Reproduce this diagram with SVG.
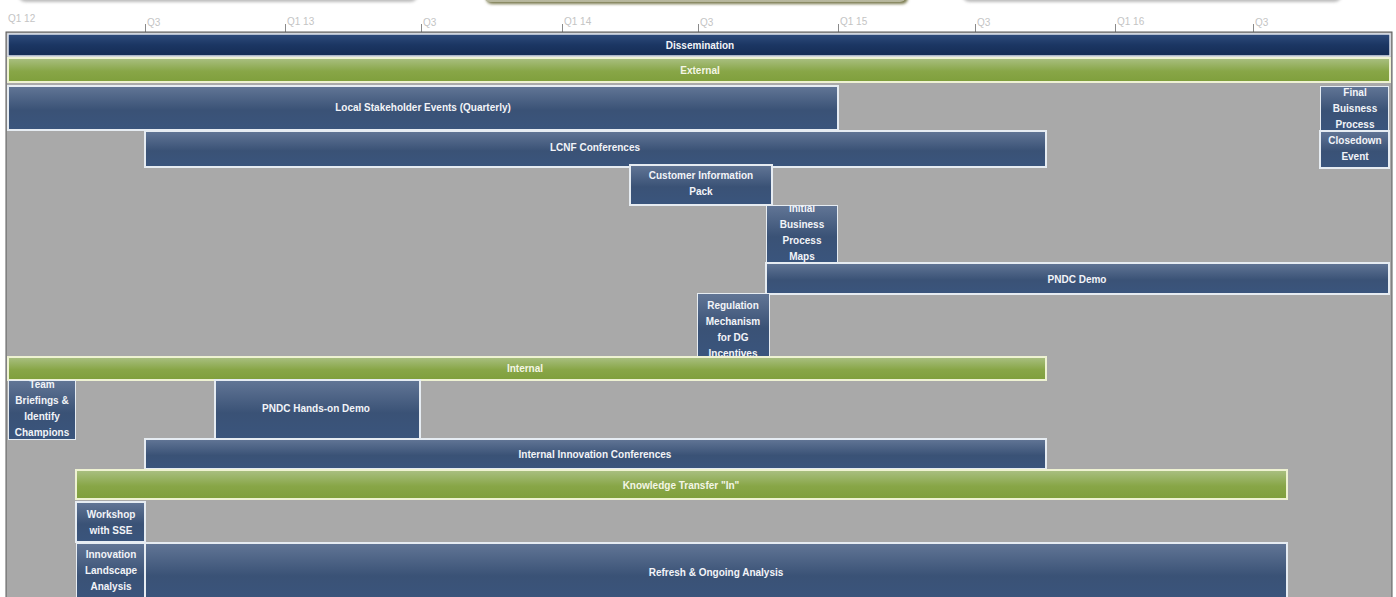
<svg xmlns="http://www.w3.org/2000/svg" width="1396" height="597" viewBox="0 0 1396 597">
<defs>
<linearGradient id="gNavy" x1="0" y1="0" x2="0" y2="1">
<stop offset="0" stop-color="#627696"/>
<stop offset="0.55" stop-color="#3a5276"/>
<stop offset="1" stop-color="#3a557d"/>
</linearGradient>
<linearGradient id="gDark" x1="0" y1="0" x2="0" y2="1">
<stop offset="0" stop-color="#2f4c7c"/>
<stop offset="0.5" stop-color="#1b3663"/>
<stop offset="1" stop-color="#152c54"/>
</linearGradient>
<linearGradient id="gGreen" x1="0" y1="0" x2="0" y2="1">
<stop offset="0" stop-color="#aac083"/>
<stop offset="0.55" stop-color="#88a647"/>
<stop offset="1" stop-color="#7f9f3c"/>
</linearGradient>
<linearGradient id="gCall" x1="0" y1="0" x2="0" y2="1">
<stop offset="0" stop-color="#e4e4dc"/>
<stop offset="1" stop-color="#b5b59a"/>
</linearGradient>
<filter id="sh" x="-5%" y="-50%" width="110%" height="200%">
<feGaussianBlur stdDeviation="1.5"/>
</filter>
<clipPath id="cInit"><rect x="766" y="205" width="72" height="58"/></clipPath>
<clipPath id="cReg"><rect x="697" y="293" width="73" height="64"/></clipPath>
<clipPath id="cTeam"><rect x="8" y="380" width="68" height="60"/></clipPath>
<clipPath id="cFinal"><rect x="1320" y="86" width="69" height="45"/></clipPath>
<clipPath id="cInno"><rect x="76" y="543" width="69" height="54"/></clipPath>
</defs>
<style>
.nv{fill:url(#gNavy);stroke:#e6ecf2;stroke-width:2}
.dk{fill:url(#gDark);stroke:#dfe5ee;stroke-width:1.5}
.gr{fill:url(#gGreen);stroke:#eef2d2;stroke-width:2}
.t{font-family:"Liberation Sans",Arial,sans-serif;font-size:10px;font-weight:bold;fill:#f2f4f8;text-anchor:middle;dominant-baseline:central}
.tg{fill:#f4f6e6}
.ax{font-family:"Liberation Sans",Arial,sans-serif;font-size:10px;fill:#c4c4c4}
.tk{stroke:#8a8a8a;stroke-width:1}
</style>
<rect width="1396" height="597" fill="#ffffff"/>
<g id="callouts">
<rect x="18" y="-24" width="400" height="26" rx="8" fill="#bbbbbb" filter="url(#sh)"/>
<rect x="16" y="-26" width="400" height="26" rx="8" fill="#ffffff"/>
<rect x="486" y="-22" width="422" height="26" rx="6" fill="#77774a" filter="url(#sh)"/>
<rect x="484" y="-24" width="422" height="26" rx="6" fill="url(#gCall)"/>
<rect x="962" y="-24" width="380" height="26" rx="8" fill="#bbbbbb" filter="url(#sh)"/>
<rect x="960" y="-26" width="380" height="26" rx="8" fill="#ffffff"/>
</g>
<g id="axis">
<text class="ax" x="8" y="22">Q1 12</text>
<text class="ax" x="147" y="26">Q3</text>
<text class="ax" x="287" y="25">Q1 13</text>
<text class="ax" x="423" y="26">Q3</text>
<text class="ax" x="564" y="25">Q1 14</text>
<text class="ax" x="700" y="26">Q3</text>
<text class="ax" x="840" y="25">Q1 15</text>
<text class="ax" x="977" y="26">Q3</text>
<text class="ax" x="1117" y="25">Q1 16</text>
<text class="ax" x="1255" y="26">Q3</text>
<path class="tk" d="M145.5 24V32M285.5 24V32M421.5 24V32M562.5 24V32M698.5 24V32M838.5 24V32M975.5 24V32M1115.5 24V32M1253.5 24V32"/>
</g>
<rect id="chart-bg" x="6" y="32" width="1386" height="570" fill="#a9a9a9" stroke="#5a5a5a" stroke-width="1"/>
<g id="n-dissemination"><rect class="dk" x="8" y="34" width="1382" height="22"/><text class="t" x="700" y="45">Dissemination</text></g>
<g id="n-external"><rect class="gr" x="8" y="58" width="1382" height="24"/><text class="t tg" x="700" y="70">External</text></g>
<g id="n-local"><rect class="nv" x="8" y="86" width="830" height="44"/><text class="t" x="423" y="107">Local Stakeholder Events (Quarterly)</text></g>
<g id="n-final" clip-path="url(#cFinal)"><rect class="nv" x="1320" y="86" width="69" height="45"/><text class="t" x="1355" y="92">Final</text><text class="t" x="1355" y="108">Buisness</text><text class="t" x="1355" y="124">Process</text></g>
<g id="n-closedown"><rect class="nv" x="1320" y="131" width="69" height="37"/><text class="t" x="1355" y="140">Closedown</text><text class="t" x="1355" y="156">Event</text></g>
<g id="n-lcnf"><rect class="nv" x="145" y="131" width="901" height="36"/><text class="t" x="595" y="147">LCNF Conferences</text></g>
<g id="n-cip"><rect class="nv" x="630" y="165" width="142" height="40"/><text class="t" x="701" y="175">Customer Information</text><text class="t" x="701" y="191">Pack</text></g>
<g id="n-initial" clip-path="url(#cInit)"><rect class="nv" x="766" y="205" width="72" height="58"/><text class="t" x="802" y="208">Initial</text><text class="t" x="802" y="224">Business</text><text class="t" x="802" y="240">Process</text><text class="t" x="802" y="256">Maps</text></g>
<g id="n-pndc"><rect class="nv" x="766" y="263" width="623" height="31"/><text class="t" x="1077" y="279">PNDC Demo</text></g>
<g id="n-reg" clip-path="url(#cReg)"><rect class="nv" x="697" y="293" width="73" height="64"/><text class="t" x="733" y="305">Regulation</text><text class="t" x="733" y="321">Mechanism</text><text class="t" x="733" y="337">for DG</text><text class="t" x="733" y="353">Incentives</text></g>
<g id="n-internal"><rect class="gr" x="8" y="357" width="1038" height="23"/><text class="t tg" x="525" y="368">Internal</text></g>
<g id="n-team" clip-path="url(#cTeam)"><rect class="nv" x="8" y="380" width="68" height="60"/><text class="t" x="42" y="384">Team</text><text class="t" x="42" y="400">Briefings &amp;</text><text class="t" x="42" y="416">Identify</text><text class="t" x="42" y="432">Champions</text></g>
<g id="n-handson"><rect class="nv" x="215" y="380" width="205" height="60"/><text class="t" x="316" y="408">PNDC Hands-on Demo</text></g>
<g id="n-iic"><rect class="nv" x="145" y="439" width="901" height="30"/><text class="t" x="595" y="454">Internal Innovation Conferences</text></g>
<g id="n-ktin"><rect class="gr" x="76" y="470" width="1211" height="29"/><text class="t tg" x="681" y="485">Knowledge Transfer "In"</text></g>
<g id="n-workshop"><rect class="nv" x="76" y="502" width="69" height="40"/><text class="t" x="111" y="514">Workshop</text><text class="t" x="111" y="530">with SSE</text></g>
<g id="n-landscape" clip-path="url(#cInno)"><rect class="nv" x="76" y="543" width="69" height="60"/><text class="t" x="111" y="554">Innovation</text><text class="t" x="111" y="570">Landscape</text><text class="t" x="111" y="586">Analysis</text></g>
<g id="n-refresh"><rect class="nv" x="145" y="543" width="1142" height="60"/><text class="t" x="716" y="572">Refresh &amp; Ongoing Analysis</text></g>
<g id="connectors"/>
</svg>
